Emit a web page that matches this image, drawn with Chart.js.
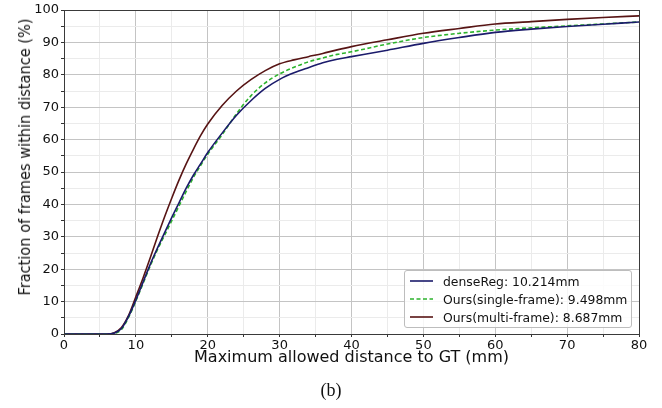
<!DOCTYPE html>
<html>
<head>
<meta charset="utf-8">
<script src="https://cdn.jsdelivr.net/npm/chart.js@4"></script>
<style>
  body { margin: 0; background: #fff; }
  #wrap { position: relative; width: 662px; height: 408px; }
  #legend {
    position: absolute; left: 404px; top: 270px; width: 226px; height: 55px;
    border: 1px solid #bdbdbd; border-radius: 3px; background: rgba(255,255,255,0.85);
    font: 12.4px 'DejaVu Sans', sans-serif; color: #111; padding-top: 1px;
  }
  .row { height: 18px; display: flex; align-items: center; white-space: nowrap; }
  .row svg { margin-left: 5px; margin-right: 10px; }
  #ytitle {
    position: absolute; left: -145px; top: 147px; width: 340px; height: 20px; line-height: 20px;
    text-align: center; font: 16px 'DejaVu Sans', sans-serif; color: #111; white-space: nowrap;
    transform: rotate(-90deg) scaleX(0.91);
  }
  #caption {
    position: absolute; left: 0; width: 662px; top: 380px; text-align: center;
    font: 18px 'Liberation Serif', 'DejaVu Serif', serif; color: #111;
  }
</style>
</head>
<body>
<div id="wrap">
  <canvas id="cdf" width="662" height="408"></canvas>
  <div id="ytitle">Fraction of frames within distance (%)</div>
  <div id="legend"></div>
  <div id="caption">(b)</div>
</div>
<script>
// CDF of per-frame error: fraction of frames within distance
const distances = [0, 5, 6, 7, 8, 9, 10, 11, 12, 13, 14, 15, 16, 17, 18, 19, 20, 22, 24, 26, 28, 30,
  32, 34, 36, 38, 40, 45, 50, 55, 60, 65, 70, 75, 80];

const denseReg = [0, 0, 0, 0.3, 1.7, 5.5, 10.5, 16, 21.5, 26.5, 31.3, 36, 40.5, 45, 49, 52.5, 56, 62, 67.5, 72, 75.8, 78.6,
  80.6, 82.2, 83.7, 84.8, 85.6, 87.6, 89.7, 91.5, 93.1, 94.1, 94.9, 95.6, 96.3];

const oursSingle = [0, 0, 0, 0.2, 1.4, 5.2, 10.2, 15.6, 21, 26, 30.5, 35, 39.5, 44, 48.3, 52, 55.5, 61.5, 68, 73.5, 77.5, 80.3,
  82.3, 84, 85.2, 86.3, 87.1, 89.5, 91.5, 92.8, 93.8, 94.5, 95.1, 95.7, 96.3];

const oursMulti = [0, 0, 0, 0.4, 2, 5.8, 11.5, 17.3, 23.5, 30, 36.2, 42, 47.5, 52.5, 57, 61.2, 64.8, 70.5, 75, 78.5, 81.3, 83.4,
  84.6, 85.6, 86.6, 87.7, 88.7, 90.8, 92.8, 94.3, 95.7, 96.4, 97.1, 97.7, 98.2];

const seriesLabels = ['denseReg: 10.214mm', 'Ours(single-frame): 9.498mm', 'Ours(multi-frame): 8.687mm'];
const seriesColors = ['#1b1b6b', '#2cb32c', '#571414'];
const seriesDash = [[], [4, 2.5], []];

const xTicks = [0, 10, 20, 30, 40, 50, 60, 70, 80];
const yTicks = [0, 10, 20, 30, 40, 50, 60, 70, 80, 90, 100];

function toPoints(values) {
  return distances.map((d, i) => ({ x: d, y: values[i] }));
}

// frame around the plot area (matplotlib style spines)
const frameBox = {
  id: 'frameBox',
  afterDraw(chart) {
    const { ctx, chartArea: a } = chart;
    ctx.save();
    ctx.strokeStyle = '#3a3a3a';
    ctx.lineWidth = 1;
    ctx.strokeRect(a.left + 0.5, a.top + 0.5, a.right - a.left, a.bottom - a.top);
    ctx.restore();
  }
};

function gridColor(ctx) {
  const v = ctx.tick ? ctx.tick.value : 0;
  return v % 10 === 0 ? '#c4c4c4' : '#ebebeb';
}

const tickFont = { family: "'DejaVu Sans', sans-serif", size: 13 };
const titleFont = { family: "'DejaVu Sans', sans-serif", size: 16 };

new Chart(document.getElementById('cdf'), {
  type: 'line',
  data: {
    datasets: [denseReg, oursSingle, oursMulti].map((vals, i) => ({
      label: seriesLabels[i],
      data: toPoints(vals),
      borderColor: seriesColors[i],
      borderDash: seriesDash[i],
      borderWidth: 1.6,
      pointRadius: 0,
      cubicInterpolationMode: 'monotone',
      fill: false
    }))
  },
  options: {
    responsive: false,
    animation: false,
    layout: { padding: { top: 10, right: 23, left: 0, bottom: 0 } },
    plugins: {
      legend: { display: false },
      tooltip: { enabled: false }
    },
    scales: {
      x: {
        type: 'linear',
        min: 0,
        max: 80,
        afterFit: (s) => { s.height = 74; },
        grid: { color: gridColor, tickLength: 3, tickColor: '#333' },
        border: { color: '#3a3a3a' },
        ticks: {
          stepSize: 5,
          autoSkip: false,
          maxRotation: 0,
          padding: 1,
          color: '#111',
          font: tickFont,
          callback: (v) => xTicks.includes(v) ? String(v) : ''
        },
        title: {
          display: true,
          text: 'Maximum allowed distance to GT (mm)',
          color: '#111',
          font: titleFont,
          padding: { top: 0, bottom: 41 }
        }
      },
      y: {
        min: 0,
        max: 100,
        afterFit: (s) => { s.width = 64; },
        grid: { color: gridColor, tickLength: 3, tickColor: '#333' },
        border: { color: '#3a3a3a' },
        ticks: {
          stepSize: 5,
          autoSkip: false,
          padding: 2,
          color: '#111',
          font: tickFont,
          callback: (v) => yTicks.includes(v) ? String(v) : ''
        }
      }
    }
  },
  plugins: [frameBox]
});

// legend inside the plot, lower right
const legend = document.getElementById('legend');
legend.innerHTML = seriesLabels.map((label, i) => `
  <div class="row">
    <svg width="23" height="4"><line x1="0" y1="2" x2="23" y2="2" stroke="${seriesColors[i]}"
      stroke-width="1.6" stroke-dasharray="${seriesDash[i].join(' ') || 'none'}"/></svg>
    <span>${label}</span>
  </div>`).join('');
</script>
</body>
</html>
